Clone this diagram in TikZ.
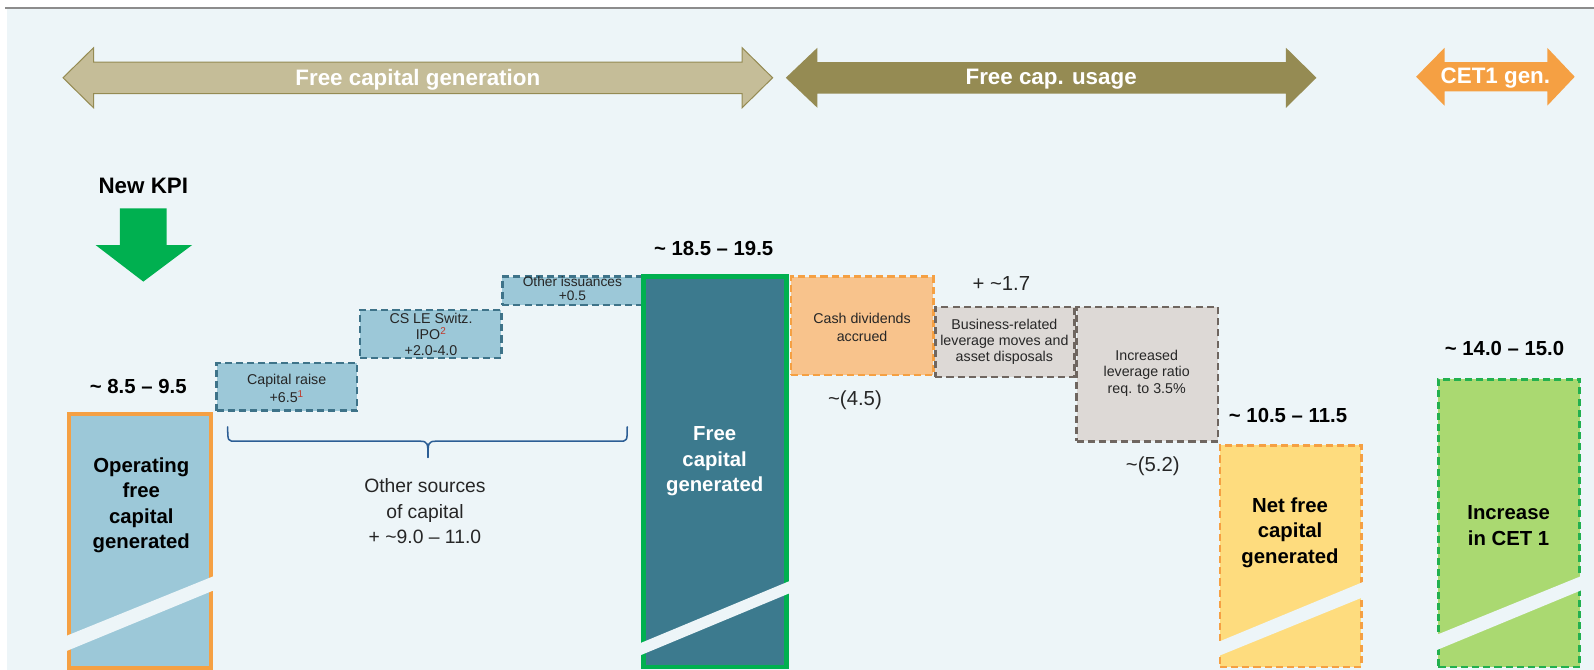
\documentclass[tikz,border=0pt]{standalone}
\usepackage{fontspec}
\setmainfont{Liberation Sans}
\definecolor{bgc}{RGB}{237,245,248}
\definecolor{topline}{RGB}{140,140,140}
\definecolor{tanfill}{RGB}{197,189,152}
\definecolor{olive}{RGB}{149,139,83}
\definecolor{orangeA}{RGB}{245,160,67}
\definecolor{kpigreen}{RGB}{0,176,80}
\definecolor{lightblue}{RGB}{156,200,216}
\definecolor{tealborder}{RGB}{62,115,137}
\definecolor{darkteal}{RGB}{60,122,142}
\definecolor{peach}{RGB}{248,195,140}
\definecolor{greyfill}{RGB}{221,217,214}
\definecolor{greyborder}{RGB}{111,102,96}
\definecolor{yellowfill}{RGB}{254,220,126}
\definecolor{limefill}{RGB}{170,217,113}
\definecolor{limeborder}{RGB}{34,176,79}
\definecolor{bracec}{RGB}{44,94,149}
\definecolor{supred}{RGB}{192,57,43}
\definecolor{txtgrey}{RGB}{38,38,38}
\begin{document}
\begin{tikzpicture}[x=1pt,y=-1pt,
  box/.style={anchor=north west,inner sep=0pt,outer sep=0pt},
  dashbox/.style={box,dash pattern=on 7pt off 4pt,line width=2.6pt},
  bluebox/.style={dashbox,draw=tealborder,fill=lightblue},
  greybox/.style={dashbox,draw=greyborder,fill=greyfill},
  arrowtxt/.style={text=white,font=\fontsize{22}{26}\selectfont\bfseries},
  kpitxt/.style={font=\fontsize{20}{25}\selectfont\bfseries,align=center},
  smalltxt/.style={text=txtgrey,font=\fontsize{14}{15.5}\selectfont,align=center},
  midtxt/.style={text=txtgrey,font=\fontsize{14}{17}\selectfont,align=center},
  valtxt/.style={text=txtgrey,font=\fontsize{20}{25}\selectfont,align=center},
  gap/.style={fill=bgc}
]
\useasboundingbox (0,0) rectangle (1568,659);
\fill[white] (0,0) rectangle (1568,659);
\fill[bgc] (7,9) rectangle (1568,659);
\draw[topline,line width=1.8pt] (5,8) -- (1568,8);

% header arrows
\draw[fill=tanfill,draw=olive,line width=1pt]
  (62,76.5) -- (92,47) -- (92,61) -- (730,61) -- (730,47) -- (760,76.5)
  -- (730,106) -- (730,92) -- (92,92) -- (92,106) -- cycle;
\node[arrowtxt] (gen) at (411,78) {Free capital generation};
\fill[olive]
  (773,76.5) -- (804,47) -- (804,61) -- (1265,61) -- (1265,47) -- (1295,76.5)
  -- (1265,106) -- (1265,92) -- (804,92) -- (804,106) -- cycle;
\node[arrowtxt] (use) at (1034,78) {Free cap. usage};
\fill[orangeA]
  (1393,75.5) -- (1421,47) -- (1421,61) -- (1522,61) -- (1522,47) -- (1549,75.5)
  -- (1522,104) -- (1522,90) -- (1421,90) -- (1421,104) -- cycle;
\node[arrowtxt] (cet) at (1471,77) {CET1 gen.};

% New KPI
\node[font=\fontsize{22}{26}\selectfont\bfseries] (kpi) at (141,183) {New KPI};
\fill[kpigreen] (118,205) -- (164,205) -- (164,241) -- (189,241) -- (141,277)
  -- (94,241) -- (118,241) -- cycle;

% step boxes
\node[bluebox,minimum width=138pt,minimum height=47pt] (raise) at (213,357) {};
\node[bluebox,minimum width=139pt,minimum height=47pt] (ipo) at (354,305) {};
\node[bluebox,minimum width=138pt,minimum height=28pt] (oth) at (494,272) {};

% bar 1
\node[box,draw=orangeA,fill=lightblue,line width=4pt,minimum width=140pt,minimum height=250pt] (opfc) at (68,407) {};
\fill[gap] (64,626) -- (212,566) -- (212,580) -- (64,641) -- cycle;

% bar 2
\node[box,draw=kpigreen,fill=darkteal,line width=4.5pt,minimum width=140.5pt,minimum height=384pt] (fcg) at (633.25,272.25) {};
\fill[gap] (629,633) -- (778,571) -- (778,583) -- (629,645) -- cycle;

% usage boxes
\node[dashbox,draw=orangeA,fill=peach,minimum width=140pt,minimum height=97pt] (div) at (778,272) {};
\node[greybox,minimum width=139pt,minimum height=132pt] (lev) at (1059,302) {};
\node[greybox,minimum width=137pt,minimum height=69pt] (bus) at (920,302) {};

% net free bar
\node[dashbox,draw=orangeA,fill=yellowfill,minimum width=139pt,minimum height=218pt] (net) at (1200,438) {};
\fill[gap] (1197,632) -- (1342,572) -- (1342,587) -- (1197,646) -- cycle;

% CET1 bar
\node[dashbox,draw=limeborder,fill=limefill,minimum width=139pt,minimum height=283pt] (inc) at (1415,373) {};
\fill[gap] (1412,625) -- (1557,566) -- (1557,580) -- (1412,640) -- cycle;

% brace
\coordinate (bl) at (224,420);
\coordinate (br) at (617,420);
\coordinate (bt) at (421,450);
\draw[bracec,line width=1.5pt,line cap=round,line join=round]
  (bl) .. controls (224,434) and (224,434) .. (232,434) -- (413,434)
  .. controls (421,434) and (421,436) .. (bt);
\draw[bracec,line width=1.5pt,line cap=round,line join=round]
  (bt) .. controls (421,436) and (421,434) .. (429,434) -- (609,434)
  .. controls (617,434) and (617,434) .. (br);

% labels
\node[kpitxt] (v1) at (136,380) {\char`\~{} 8.5 – 9.5};
\node[kpitxt] (t1) at (139,497) {Operating\\free\\capital\\generated};
\node[smalltxt,font=\fontsize{14}{18}\selectfont] (t2) at (282,382) {Capital raise\\+6.5\textsuperscript{\color{supred}1}};
\node[smalltxt] (t3) at (424,329) {CS LE Switz.\\IPO\textsuperscript{\color{supred}2}\\+2.0-4.0};
\node[smalltxt,font=\fontsize{13.5}{14}\selectfont] (t4) at (563,284) {Other issuances\\+0.5};
\node[valtxt,font=\fontsize{19}{25}\selectfont] (t5) at (418,503) {Other sources\\of capital\\+ \char`\~9.0 – 11.0};
\node[kpitxt] (v2) at (702,244) {\char`\~{} 18.5 – 19.5};
\node[kpitxt,text=white] (t6) at (703,454) {Free\\capital\\generated};
\node[midtxt,font=\fontsize{14}{18}\selectfont] (t7) at (848,322) {Cash dividends\\accrued};
\node[valtxt] (v3) at (841,394) {\char`\~(4.5)};
\node[valtxt] (v4) at (985,279) {+ \char`\~1.7};
\node[midtxt,font=\fontsize{14}{15.5}\selectfont] (t8) at (988,336) {Business-related\\leverage moves and\\asset disposals};
\node[midtxt,font=\fontsize{14}{16}\selectfont] (t9) at (1128,367) {Increased\\leverage ratio\\req. to 3.5\%};
\node[valtxt] (v5) at (1134,459) {\char`\~(5.2)};
\node[kpitxt] (v6) at (1267,409) {\char`\~{} 10.5 – 11.5};
\node[kpitxt] (t10) at (1269,524) {Net free\\capital\\generated};
\node[kpitxt] (v7) at (1480,343) {\char`\~{} 14.0 – 15.0};
\node[kpitxt] (t11) at (1484,517) {Increase\\in CET 1};
\end{tikzpicture}
\end{document}
